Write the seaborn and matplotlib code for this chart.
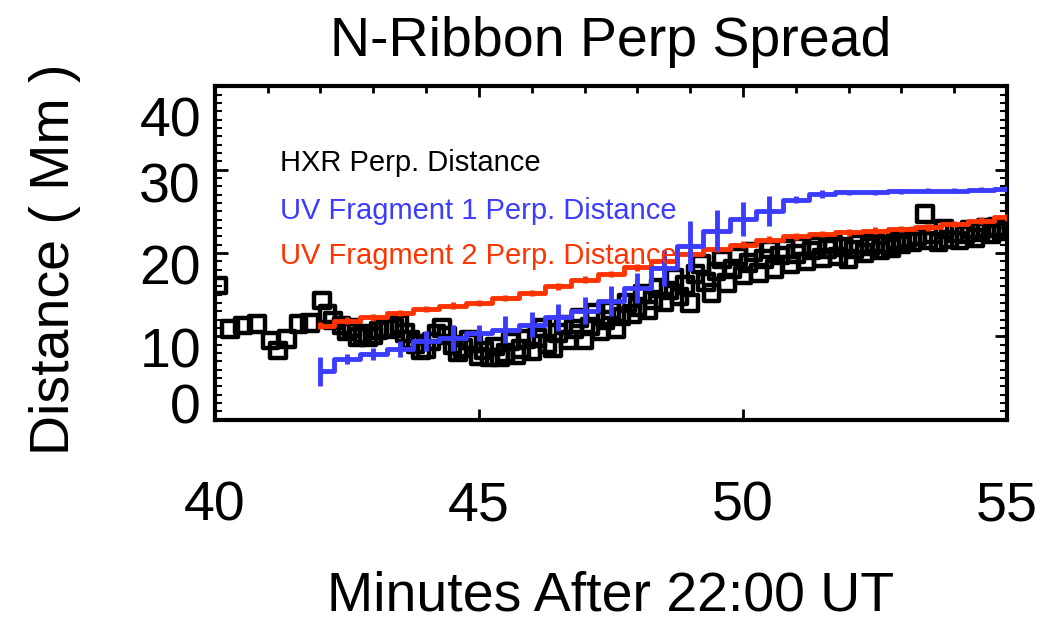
import matplotlib
matplotlib.use("Agg")
import matplotlib.pyplot as plt
import matplotlib.transforms as mtransforms
from matplotlib.ticker import MultipleLocator
import numpy as np
import pandas as pd
import seaborn as sns

# HXR perpendicular distance (minutes after 22:00 UT, Mm)
hxr_t = [40.06, 40.29, 40.53, 40.80, 41.05, 41.20, 41.37, 41.58, 41.80, 42.03, 42.13, 42.24,
         42.4, 42.5, 42.6, 42.7, 42.8, 42.9, 43.0, 43.1, 43.2, 43.3, 43.4, 43.5, 43.6, 43.7,
         43.8, 43.9, 44.0, 44.1, 44.2, 44.3, 44.4, 44.5, 44.6, 44.7, 44.8, 44.9, 45.0, 45.1,
         45.2, 45.3, 45.4, 45.5, 45.6, 45.7, 45.8, 45.9, 46.0, 46.1, 46.2, 46.3, 46.4, 46.5,
         46.6, 46.7, 46.8, 46.9, 47.0, 47.1, 47.2, 47.3, 47.4, 47.5, 47.6, 47.7, 47.8, 47.9,
         48.0, 48.1, 48.2, 48.3, 48.4, 48.5, 48.6, 48.7, 48.8, 48.9, 49.0, 49.1, 49.2, 49.3,
         49.4, 49.5, 49.6, 49.7, 49.8, 49.9, 50.0, 50.1, 50.2, 50.3, 50.4, 50.5, 50.6, 50.7,
         50.8, 50.9, 51.0, 51.1, 51.2, 51.3, 51.4, 51.5, 51.6, 51.7, 51.8, 51.9, 52.0, 52.1,
         52.2, 52.3, 52.4, 52.5, 52.6, 52.7, 52.8, 52.9, 53.0, 53.1, 53.2, 53.3, 53.45, 53.5,
         53.6, 53.7, 53.8, 53.9, 54.0, 54.1, 54.2, 54.3, 54.4, 54.5, 54.6, 54.7, 54.8, 54.9, 55.0]
hxr_d = [16.1, 10.9, 11.3, 11.5, 9.5, 8.3, 9.7, 11.5, 11.6, 14.3, 12.7, 11.9,
         11.3, 10.6, 11.0, 9.9, 10.3, 9.9, 10.1, 10.7, 11.0, 10.9, 11.0, 11.5, 10.4, 9.6,
         9.1, 8.3, 8.5, 9.4, 10.3, 11.0, 10.1, 9.0, 8.1, 8.6, 9.6, 9.2, 7.6, 8.3,
         7.5, 8.8, 7.5, 8.0, 9.4, 7.7, 8.5, 9.7, 8.2, 9.8, 11.0, 9.1, 8.6, 10.4,
         11.4, 9.6, 10.9, 12.2, 9.6, 11.2, 12.8, 10.6, 12.0, 13.1, 10.9, 12.4, 14.0, 12.7,
         13.5, 15.1, 13.2, 14.4, 15.8, 14.1, 15.5, 17.0, 14.8, 16.2, 14.0, 17.5, 18.7, 16.5,
         15.2, 17.8, 19.2, 16.4, 18.1, 19.6, 17.3, 18.8, 20.1, 17.6, 19.3, 20.4, 18.1, 19.7,
         20.5, 18.6, 19.9, 20.8, 19.0, 20.3, 20.9, 19.4, 20.5, 21.0, 19.6, 20.7, 19.3, 20.4,
         21.1, 20.0, 20.8, 21.2, 20.3, 21.0, 20.6, 21.5, 21.0, 21.8, 21.3, 22.0, 24.7, 21.5,
         22.2, 21.3, 22.9, 21.6, 22.4, 21.5, 22.2, 22.8, 21.8, 22.5, 23.0, 22.3, 23.1, 22.6, 23.0]

# UV fragments, sampled every half minute
uv_t = [42.0, 42.5, 43.0, 43.5, 44.0, 44.5, 45.0, 45.5, 46.0, 46.5, 47.0, 47.5, 48.0, 48.5,
        49.0, 49.5, 50.0, 50.5, 51.0, 51.5, 52.0, 52.5, 53.0, 53.5, 54.0, 54.5, 55.0]
uv1_d = [5.8, 7.3, 7.9, 8.5, 9.4, 9.8, 10.4, 10.8, 11.4, 12.3, 13.1, 14.3, 15.8, 18.2,
         20.9, 22.7, 24.1, 25.1, 26.4, 27.1, 27.3, 27.3, 27.4, 27.5, 27.5, 27.6, 27.7]
uv1_err = [1.7, 0.6, 0.7, 1.0, 1.2, 1.6, 1.0, 1.6, 1.5, 1.6, 1.6, 1.8, 1.8, 2.2,
           3.0, 2.5, 2.0, 1.8, 0.4, 0.5, 0.3, 0.3, 0.3, 0.3, 0.3, 0.3, 0.3]
uv2_d = [11.3, 11.9, 12.3, 12.8, 13.3, 13.7, 14.0, 14.6, 15.2, 16.0, 16.8, 17.5, 18.3, 19.1,
         19.9, 20.5, 21.0, 21.6, 22.0, 22.3, 22.5, 22.7, 22.9, 23.1, 23.5, 23.9, 24.3]
uv2_err = [0.4] * 27

labels = ["HXR Perp. Distance", "UV Fragment 1 Perp. Distance", "UV Fragment 2 Perp. Distance"]
colors = ["black", "#3c3cff", "#ff3300"]

sns.set_theme(style="white")
plt.rcParams['font.family'] = ['Liberation Sans', 'DejaVu Sans']
plt.rcParams['text.color'] = 'black'
plt.rcParams['axes.labelcolor'] = 'black'
plt.rcParams['xtick.color'] = 'black'
plt.rcParams['ytick.color'] = 'black'

fig = plt.figure(figsize=(10.48, 6.21), dpi=100)
ax = fig.add_axes([0.205, 0.324, 0.756, 0.537])

hxr = pd.DataFrame({"t": hxr_t, "d": hxr_d})
uv = pd.DataFrame({"t": uv_t, "d1": uv1_d, "e1": uv1_err, "d2": uv2_d, "e2": uv2_err})

sns.scatterplot(data=hxr, x="t", y="d", ax=ax, marker="s", s=125,
                facecolor="none", edgecolor="black", linewidth=3.2, zorder=2)

sns.lineplot(data=uv, x="t", y="d2", ax=ax, color=colors[2], linewidth=3.5,
             drawstyle="steps-mid", zorder=3)
ax.errorbar(uv["t"], uv["d2"], yerr=uv["e2"], fmt="none", ecolor=colors[2],
            elinewidth=3.5, capsize=0, zorder=3)
sns.lineplot(data=uv, x="t", y="d1", ax=ax, color=colors[1], linewidth=3.5,
             drawstyle="steps-mid", zorder=4)
ax.errorbar(uv["t"], uv["d1"], yerr=uv["e1"], fmt="none", ecolor=colors[1],
            elinewidth=3.5, capsize=0, zorder=4)

ax.set_xlim(40, 55)
ax.set_ylim(0, 40)
ax.set_xticks([40, 45, 50, 55])
ax.set_yticks([0, 10, 20, 30, 40])
ax.xaxis.set_minor_locator(MultipleLocator(1))
ax.yaxis.set_minor_locator(MultipleLocator(1))
ax.tick_params(axis="both", which="both", direction="in", colors="black")
ax.tick_params(axis="x", which="major", top=True, bottom=True, length=8, width=2, pad=44,
               labelsize=40)
ax.tick_params(axis="x", which="minor", top=True, bottom=False, length=5, width=2)
ax.tick_params(axis="y", which="major", left=True, right=True, length=9, width=2, pad=10,
               labelsize=40)
ax.tick_params(axis="y", which="minor", left=True, right=True, length=5, width=1.5)

# IDL-style tick label placement on the y axis
offsets = {0: 12, 10: -8, 20: -8, 30: -9, 40: -22}
for val, tick in zip([0, 10, 20, 30, 40], ax.yaxis.get_major_ticks()):
    tr = mtransforms.ScaledTranslation(0, offsets[val] / 72, fig.dpi_scale_trans)
    tick.label1.set_transform(tick.label1.get_transform() + tr)

for sp in ax.spines.values():
    sp.set_color("black")
    sp.set_linewidth(3)

ax.set_xlabel("Minutes After 22:00 UT", fontsize=40, color="black")
ax.xaxis.set_label_coords(0.5, -0.53)
ax.xaxis.label.set_va("center")
ax.set_ylabel("Distance ( Mm )", fontsize=40, color="black")
ax.yaxis.set_label_coords(-0.202, 0.48)
ax.yaxis.label.set_va("center")
ax.set_title("N-Ribbon Perp Spread", fontsize=40, pad=22, color="black")

for lab, col, yy in zip(labels, colors, [0.77, 0.626, 0.49]):
    ax.text(0.082, yy, lab, color=col, fontsize=21, transform=ax.transAxes,
            va="center", ha="left", zorder=5)

fig.savefig("out.png", dpi=100)
